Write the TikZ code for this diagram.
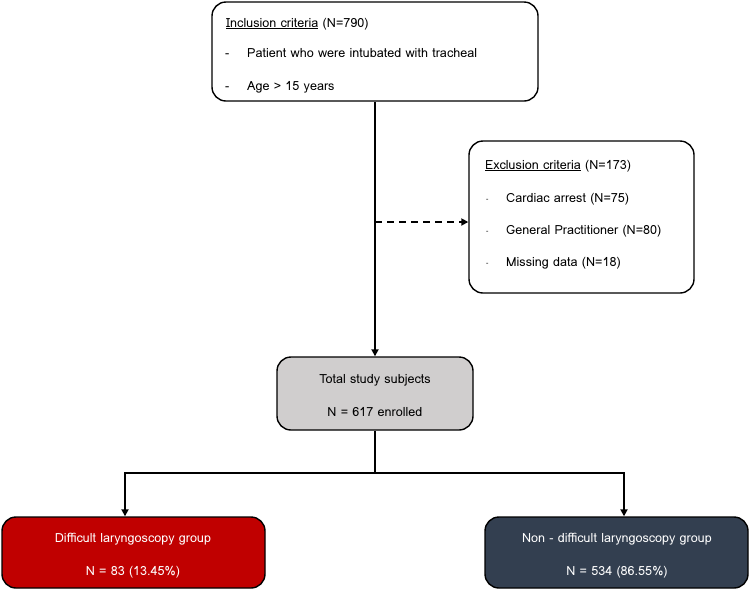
\documentclass[tikz,border=0pt]{standalone}
\usepackage{fontspec}
\setmainfont{Loma}
\usetikzlibrary{arrows.meta}
\definecolor{redbox}{HTML}{C00000}
\definecolor{darkbox}{HTML}{333F50}
\definecolor{graybox}{HTML}{D0CECE}
\begin{document}
\begin{tikzpicture}[x=1pt,y=-1pt,
  box/.style={draw=black, line width=1.4pt, rounded corners=14pt, inner sep=0pt},
  txt/.style={font=\fontsize{12.6}{14}\selectfont, inner sep=0pt, anchor=base west},
  ctxt/.style={font=\fontsize{12.6}{14}\selectfont, inner sep=0pt, anchor=base},
  conn/.style={line width=1.8pt, -{Triangle[length=7pt,width=7pt]}},
  plain/.style={line width=1.8pt}]
\useasboundingbox (0,0) rectangle (750,590);
% boxes
\node[box, fill=white, minimum width=326pt, minimum height=99pt] (inc) at (375,51.5) {};
\node[box, fill=white, minimum width=225pt, minimum height=152pt] (exc) at (581.5,217) {};
\node[box, fill=graybox, minimum width=196pt, minimum height=73pt] (tot) at (375,393.5) {};
\node[box, fill=redbox, minimum width=263pt, minimum height=71pt] (dif) at (133.5,552.5) {};
\node[box, fill=darkbox, minimum width=263pt, minimum height=71pt] (non) at (616.5,552.5) {};
% texts (positions are baselines)
\node[txt] (inct) at (226,27) {\underline{Inclusion criteria} (N=790)};
\node[txt] (incd1) at (225,57) {-};
\node[txt] (inc1) at (247,57) {Patient who were intubated with tracheal};
\node[txt] (incd2) at (225,90) {-};
\node[txt] (inc2) at (247,90) {Age > 15 years};
\node[txt] (exct) at (485,169) {\underline{Exclusion criteria} (N=173)};
\node[txt, font=\fontsize{7}{8}\selectfont] (excd1) at (486,201) {-};
\node[txt] (exc1) at (506,202) {Cardiac arrest (N=75)};
\node[txt, font=\fontsize{7}{8}\selectfont] (excd2) at (486,233) {-};
\node[txt] (exc2) at (506,234) {General Practitioner (N=80)};
\node[txt, font=\fontsize{7}{8}\selectfont] (excd3) at (486,265) {-};
\node[txt] (exc3) at (506,266) {Missing data (N=18)};
\node[ctxt] (tot1) at (375,383) {Total study subjects};
\node[ctxt] (tot2) at (375,416) {N = 617 enrolled};
\node[ctxt, text=white] (dif1) at (133,542) {Difficult laryngoscopy group};
\node[ctxt, text=white] (dif2) at (133,575) {N = 83 (13.45\%)};
\node[ctxt, text=white] (non1) at (617,542) {Non - difficult laryngoscopy group};
\node[ctxt, text=white] (non2) at (617,575) {N = 534 (86.55\%)};
% connectors
\coordinate (d) at (375,222);
\coordinate (br) at (375,473);
\coordinate (bl) at (125,473);
\coordinate (bri) at (624,473);
\draw[conn] (inc.south) -- (tot.north);
\draw[conn, dashed, dash pattern=on 7pt off 5pt] (d) -- (exc.west |- d);
\draw[plain] (tot.south) -- (br);
\draw[conn] (br) -- (bl) -- (bl |- dif.north);
\draw[conn] (br) -- (bri) -- (bri |- non.north);
\end{tikzpicture}
\end{document}
